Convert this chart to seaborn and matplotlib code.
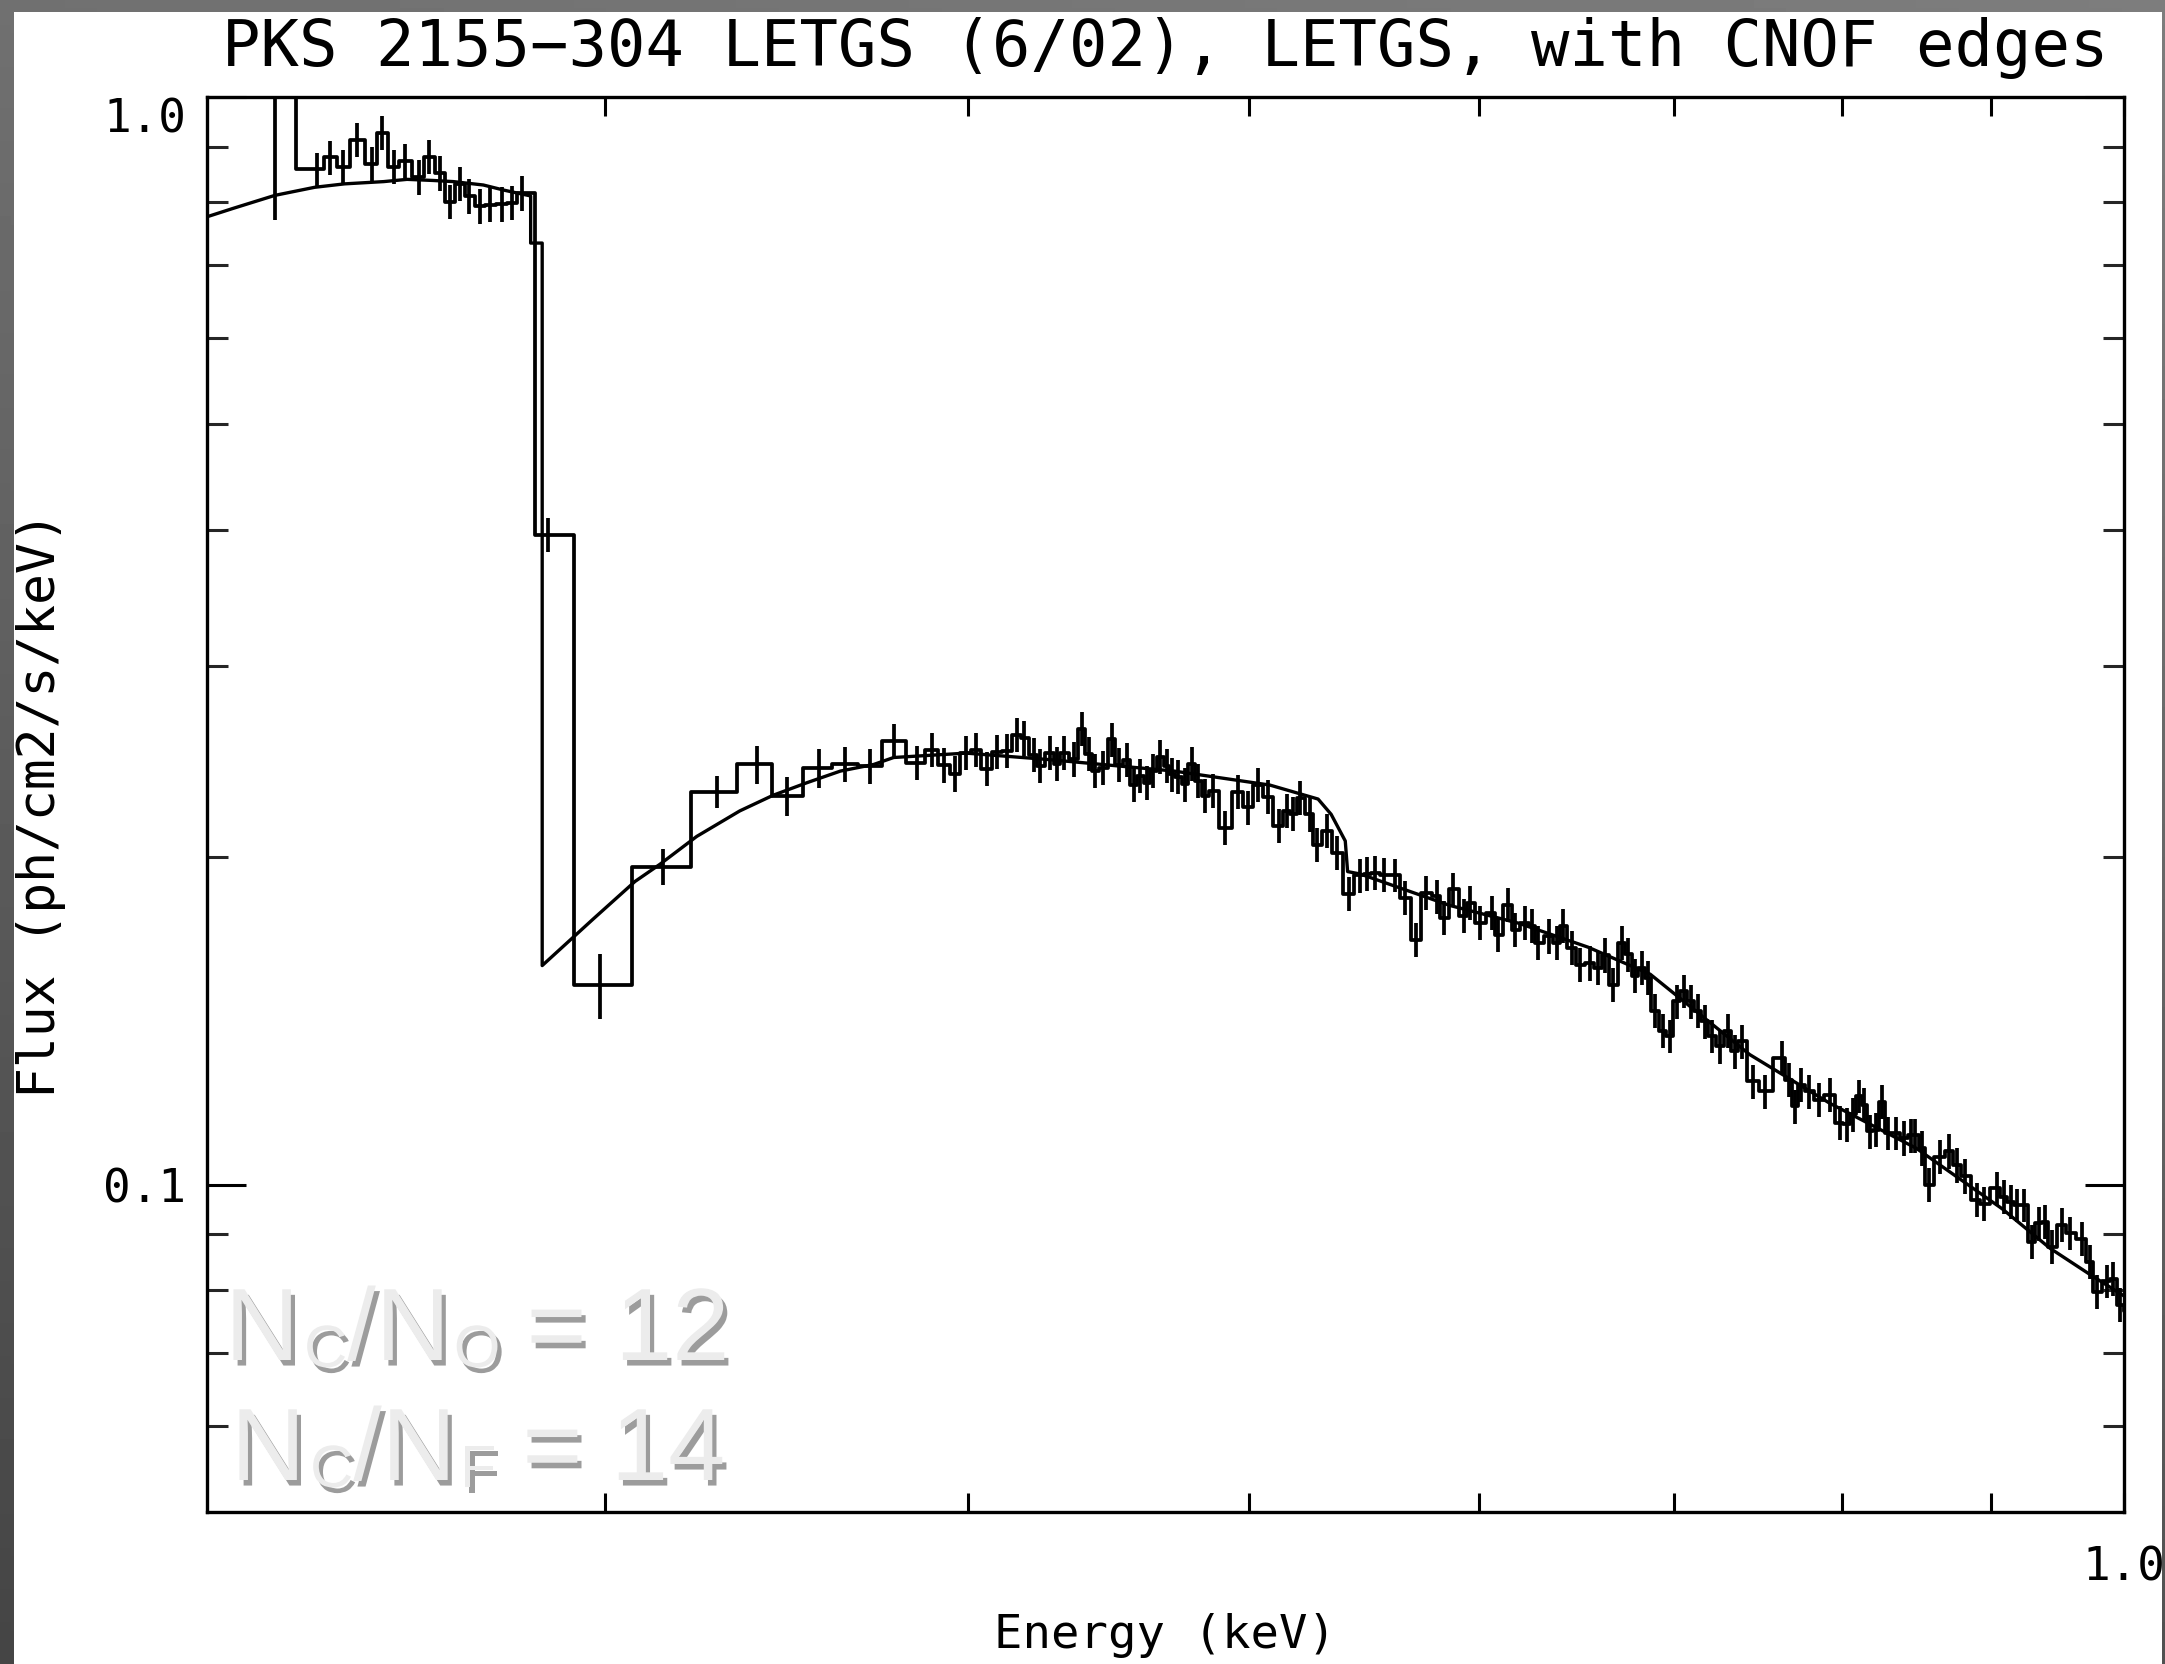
import numpy as np
import matplotlib
matplotlib.use("Agg")
import matplotlib.pyplot as plt
import seaborn as sns
from matplotlib.patches import Rectangle
from matplotlib import patheffects as pe
from matplotlib.ticker import FixedLocator, NullLocator

# ---------------- data ----------------
energy = [
    0.2310, 0.2389, 0.2414, 0.2439, 0.2465, 0.2495, 0.2515, 0.2538, 0.2561, 0.2589,
    0.2611, 0.2632, 0.2653, 0.2675, 0.2695, 0.2718, 0.2740, 0.2765, 0.2787, 0.2809,
    0.2869, 0.2989, 0.3143, 0.3280, 0.3385, 0.3467, 0.3555, 0.3630, 0.3703, 0.3773,
    0.3843, 0.3889, 0.3927, 0.3961,
    0.3993, 0.4025, 0.4062, 0.4094, 0.4126, 0.4159, 0.4184, 0.4214, 0.4237, 0.4270,
    0.4293, 0.4316, 0.4350, 0.4379, 0.4402, 0.4425, 0.4454, 0.4484, 0.4508, 0.4538,
    0.4562, 0.4586, 0.4610, 0.4634, 0.4659, 0.4684, 0.4703, 0.4727, 0.4752, 0.4777,
    0.4802, 0.4827, 0.4860, 0.4905, 0.4957, 0.4995, 0.5036, 0.5076, 0.5117, 0.5151,
    0.5177, 0.5204, 0.5246, 0.5275, 0.5317, 0.5360, 0.5409, 0.5460, 0.5489, 0.5525,
    0.5562, 0.5612,
    0.5657, 0.5707, 0.5753, 0.5801, 0.5832, 0.5878, 0.5925, 0.5956, 0.6004, 0.6059,
    0.6090, 0.6139, 0.6172, 0.6222, 0.6255, 0.6287, 0.6342, 0.6379, 0.6410, 0.6456,
    0.6499, 0.6550, 0.6592, 0.6628, 0.6672, 0.6716, 0.6752, 0.6787, 0.6823, 0.6858,
    0.6895, 0.6939, 0.6978, 0.7016, 0.7055, 0.7094, 0.7133, 0.7173, 0.7213, 0.7260,
    0.7306, 0.7346, 0.7387,
    0.7453, 0.7523, 0.7624, 0.7669, 0.7703, 0.7743, 0.7794, 0.7853, 0.7920, 0.7983,
    0.8026, 0.8070, 0.8107, 0.8139, 0.8174, 0.8216, 0.8258, 0.8295, 0.8347, 0.8401,
    0.8446, 0.8475, 0.8520, 0.8566, 0.8645, 0.8707, 0.8759, 0.8818, 0.8900, 0.8947,
    0.9041, 0.9093, 0.9142, 0.9186, 0.9240, 0.9296, 0.9345, 0.9394, 0.9443, 0.9519,
    0.9582, 0.9671, 0.9735, 0.9786, 0.9864, 0.9916, 0.9968, 1.0032,
]
flux = [
    1.10, 0.858, 0.880, 0.863, 0.913, 0.868, 0.927, 0.863, 0.874, 0.844,
    0.881, 0.851, 0.801, 0.832, 0.811, 0.794, 0.796, 0.797, 0.799, 0.816,
    0.396, 0.1525, 0.196, 0.2297, 0.2434, 0.2277, 0.2416, 0.2434, 0.2425, 0.2558,
    0.2443, 0.2512, 0.2429, 0.2386,
    0.2496, 0.2509, 0.2410, 0.2501, 0.2505, 0.2592, 0.2573, 0.2484, 0.2426, 0.2496,
    0.2438, 0.2496, 0.2461, 0.2624, 0.2488, 0.2401, 0.2415, 0.2567, 0.2432, 0.2457,
    0.2331, 0.2376, 0.2342, 0.2401, 0.2473, 0.2426, 0.2384, 0.2370, 0.2334, 0.2438,
    0.2350, 0.2277, 0.2301, 0.2129, 0.2298, 0.2222, 0.2331, 0.2272, 0.2137, 0.2206,
    0.2193, 0.2269, 0.2190, 0.2054, 0.2114, 0.2019, 0.1850, 0.1924, 0.1930, 0.1935,
    0.1928, 0.1925,
    0.1835, 0.1680, 0.1855, 0.1841, 0.1759, 0.1868, 0.1766, 0.1816, 0.1741, 0.1778,
    0.1698, 0.1808, 0.1716, 0.1741, 0.1729, 0.1668, 0.1692, 0.1668, 0.1729, 0.1651,
    0.1593, 0.1598, 0.1582, 0.1625, 0.1527, 0.1668, 0.1628, 0.1555, 0.1582, 0.1549,
    0.1444, 0.1384, 0.1369, 0.1474, 0.1506, 0.1474, 0.1444, 0.1413, 0.1369, 0.1340,
    0.1384, 0.1326, 0.1354,
    0.1244, 0.1218, 0.1307, 0.1249, 0.1180, 0.1236, 0.1218, 0.1197, 0.1210, 0.1139,
    0.1136, 0.1160, 0.1206, 0.1184, 0.1119, 0.1123, 0.1192, 0.1115, 0.1115, 0.1103,
    0.1110, 0.1110, 0.1080, 0.0999, 0.1061, 0.1073, 0.1042, 0.1018, 0.0968, 0.0960,
    0.0992, 0.0975, 0.0964, 0.0957, 0.0957, 0.0886, 0.0921, 0.0924, 0.0877, 0.0918,
    0.0902, 0.0891, 0.0849, 0.0797, 0.0815, 0.0819, 0.0775, 0.0766,
]
flux_err = [
    0.33, 0.031, 0.032, 0.031, 0.033, 0.031, 0.034, 0.031, 0.032, 0.031,
    0.032, 0.031, 0.029, 0.030, 0.030, 0.029, 0.029, 0.029, 0.029, 0.030,
    0.0145, 0.0105, 0.0073, 0.0078, 0.0099, 0.0095, 0.0099, 0.0089, 0.0090, 0.0095,
    0.0090, 0.0090, 0.0090, 0.0090,
    0.0090, 0.0090, 0.0087, 0.0090, 0.0090, 0.0093, 0.0093, 0.0089, 0.0087, 0.0090,
    0.0088, 0.0090, 0.0089, 0.0094, 0.0090, 0.0086, 0.0087, 0.0092, 0.0088, 0.0088,
    0.0084, 0.0086, 0.0084, 0.0086, 0.0089, 0.0087, 0.0086, 0.0085, 0.0084, 0.0088,
    0.0085, 0.0082, 0.0083, 0.0077, 0.0083, 0.0080, 0.0084, 0.0082, 0.0077, 0.0079,
    0.0079, 0.0082, 0.0079, 0.0074, 0.0076, 0.0073, 0.0067, 0.0069, 0.0069, 0.0070,
    0.0069, 0.0069,
    0.0066, 0.0060, 0.0067, 0.0066, 0.0063, 0.0067, 0.0064, 0.0065, 0.0063, 0.0064,
    0.0061, 0.0065, 0.0062, 0.0063, 0.0062, 0.0060, 0.0061, 0.0060, 0.0062, 0.0059,
    0.0057, 0.0058, 0.0057, 0.0059, 0.0055, 0.0060, 0.0059, 0.0056, 0.0057, 0.0056,
    0.0052, 0.0050, 0.0049, 0.0053, 0.0054, 0.0053, 0.0052, 0.0051, 0.0049, 0.0048,
    0.0050, 0.0048, 0.0049,
    0.0045, 0.0044, 0.0047, 0.0045, 0.0042, 0.0044, 0.0044, 0.0043, 0.0044, 0.0041,
    0.0041, 0.0042, 0.0043, 0.0043, 0.0040, 0.0040, 0.0043, 0.0040, 0.0040, 0.0040,
    0.0040, 0.0040, 0.0039, 0.0036, 0.0038, 0.0039, 0.0038, 0.0037, 0.0035, 0.0035,
    0.0036, 0.0035, 0.0035, 0.0034, 0.0034, 0.0032, 0.0033, 0.0033, 0.0032, 0.0033,
    0.0032, 0.0032, 0.0031, 0.0029, 0.0029, 0.0029, 0.0028, 0.0028,
]
model_energy = [
    0.2189, 0.2235, 0.2310, 0.2384, 0.2441, 0.2518, 0.2565, 0.2619, 0.2661, 0.2725,
    0.2770, 0.2829, 0.2829, 0.2855, 0.2855, 0.2973, 0.3073, 0.3134, 0.3227, 0.3339,
    0.3428, 0.3522, 0.3616, 0.3713, 0.3772, 0.3995, 0.4267, 0.4711, 0.5082, 0.5280,
    0.5335, 0.5395, 0.5405, 0.5460, 0.5860, 0.6190, 0.6540, 0.6870, 0.7433, 0.7920,
    0.8482, 0.9080, 0.9430, 0.9759, 1.0,
]
model_flux = [
    0.776, 0.790, 0.812, 0.826, 0.832, 0.836, 0.840, 0.838, 0.836, 0.830,
    0.821, 0.811, 0.734, 0.734, 0.159, 0.1755, 0.190, 0.197, 0.209, 0.2206,
    0.228, 0.2342, 0.240, 0.2434, 0.247, 0.2493, 0.2459, 0.240, 0.233, 0.2262,
    0.219, 0.207, 0.194, 0.193, 0.1806, 0.1739, 0.1653, 0.1561, 0.1317, 0.1188,
    0.1080, 0.0950, 0.0874, 0.0823, 0.0790,
]
x_major = [0.3, 0.4, 0.5, 0.6, 0.7, 0.8, 0.9, 1.0]
x_labels = ["", "", "", "", "", "", "", "1.0"]
y_major = [0.1, 1.0]
y_labels = ["0.1", "1.0"]
y_minor = [0.06, 0.07, 0.08, 0.09, 0.2, 0.3, 0.4, 0.5, 0.6, 0.7, 0.8, 0.9]

title = "PKS 2155\u2212304 LETGS (6/02), LETGS, with CNOF edges"
xlabel = "Energy (keV)"
ylabel = "Flux (ph/cm2/s/keV)"
# annotation pieces: (text, is_subscript)
note1 = [("N", False), ("C", True), ("/N", False), ("O", True), ("= 12", False)]
note2 = [("N", False), ("C", True), ("/N", False), ("F", True), ("= 14", False)]

# ---------------- style ----------------
sns.set_style("ticks")
plt.rcParams["font.family"] = ["DejaVu Sans Mono", "DejaVu Sans"]

W, H, DPI = 2165, 1664, 100
fig = plt.figure(figsize=(W / DPI, H / DPI), dpi=DPI)

# grey slide background with white panel
bg = fig.add_axes([0, 0, 1, 1], zorder=-10)
gy, gx = np.mgrid[0:1:200j, 0:1:200j]
grad = 0.27 + 0.17 * (1 - gy) + 0.05 * gx
bg.imshow(grad, cmap="gray", vmin=0, vmax=1, extent=[0, W, H, 0], aspect="auto")
bg.add_patch(Rectangle((14, 12), 2148, H - 12, facecolor="white", edgecolor="none"))
bg.set_xlim(0, W)
bg.set_ylim(H, 0)
bg.axis("off")

ax = fig.add_axes([207 / W, 1 - 1512 / H, (2124 - 207) / W, (1512 - 97) / H])
ax.set_facecolor("white")

LW = 2.7
sns.lineplot(x=energy, y=flux, drawstyle="steps-mid", estimator=None, sort=False,
             color="black", linewidth=LW, ax=ax)
e = np.array(energy)
f = np.array(flux)
s = np.array(flux_err)
ax.vlines(e, f - s, f + s, color="black", linewidth=LW)
sns.lineplot(x=model_energy, y=model_flux, estimator=None, sort=False,
             color="black", linewidth=2.4, ax=ax)

ax.set_xscale("log")
ax.set_yscale("log")
ax.set_xlim(0.2189, 1.0)
ax.set_ylim(0.05, 1.0)

ax.xaxis.set_major_locator(FixedLocator(x_major))
ax.set_xticklabels(x_labels)
ax.xaxis.set_minor_locator(NullLocator())
ax.yaxis.set_major_locator(FixedLocator(y_major))
ax.set_yticklabels(y_labels)
ax.yaxis.set_minor_locator(FixedLocator(y_minor))
ax.yaxis.set_minor_formatter(plt.NullFormatter())

for sp in ax.spines.values():
    sp.set_linewidth(2.4)
    sp.set_color("black")
ax.tick_params(axis="x", which="major", direction="in", length=13.7, width=2.2,
               top=True, bottom=True, labelsize=33, pad=24, colors="black")
ax.tick_params(axis="y", which="major", direction="in", length=28, width=2.2,
               left=True, right=True, labelsize=33, pad=15, colors="black")
ax.tick_params(axis="y", which="minor", direction="in", length=15, width=2.2,
               left=True, right=True)
for lbl in ax.get_yticklabels():
    if lbl.get_text() == "1.0":
        lbl.set_va("top")

ax.set_title(title, fontsize=46, pad=22, color="black")
ax.set_xlabel(xlabel, fontsize=34, color="black")
ax.set_ylabel(ylabel, fontsize=37, color="black")
ax.xaxis.set_label_coords(0.5, -0.0714)
ax.yaxis.set_label_coords(-0.0736, 0.5)

# annotation with drop shadow, laid out piece by piece
shadow = [pe.SimplePatchShadow(offset=(3, -4), shadow_rgbFace="#3a3a3a", alpha=0.5),
          pe.Normal()]
renderer = fig.canvas.get_renderer()
gaps = [5, 0, 4, 26, 0]
for pieces, x0, base in [(note1, 225, 1360), (note2, 231, 1480)]:
    x = x0
    for (txt, sub), gap in zip(pieces, gaps):
        size = 43 if sub else 74
        py = base + (7 if sub else 0)
        t = fig.text(x / W, 1 - py / H, txt, fontsize=size, family="Liberation Sans",
                     color="#ececec", va="baseline", ha="left", path_effects=shadow)
        bb = t.get_window_extent(renderer)
        x = bb.x1 + gap

fig.savefig("out.png", dpi=DPI)
